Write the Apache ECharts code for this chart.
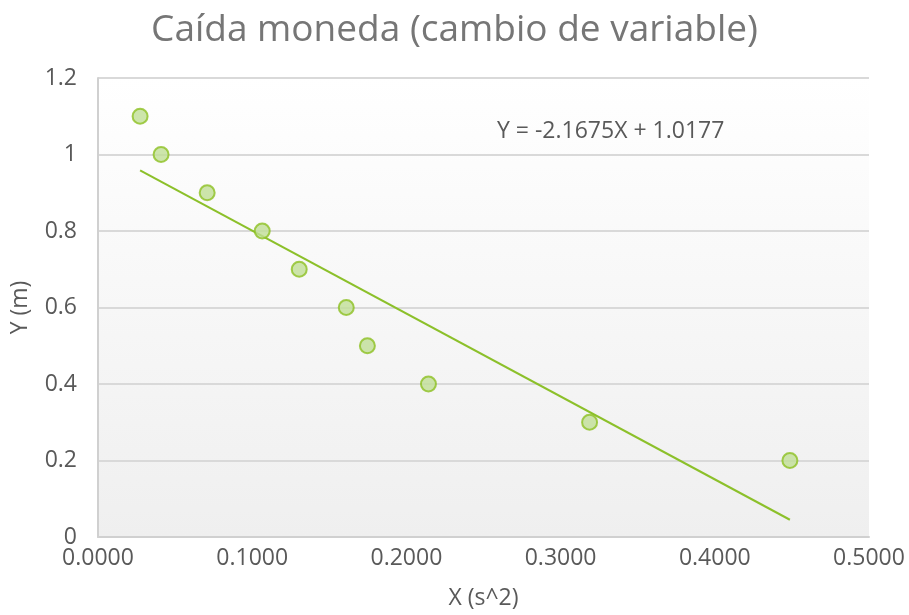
<!DOCTYPE html>
<html>
<head>
<meta charset="utf-8">
<script src="https://cdn.jsdelivr.net/npm/echarts@6/dist/echarts.min.js"></script>
<style>html,body{margin:0;padding:0;background:#fff}#c{width:909px;height:615px}</style>
</head>
<body>
<div id="c"></div>
<script>
const titleText = 'Caída moneda (cambio de variable)';
const xName = 'X (s^2)';
const yName = 'Y (m)';
const xValues = [0.0273, 0.0409, 0.0708, 0.1065, 0.1305, 0.1610, 0.1747, 0.2143, 0.3188, 0.4487];
const yValues = [1.1, 1.0, 0.9, 0.8, 0.7, 0.6, 0.5, 0.4, 0.3, 0.2];
const trendX = [0.0273, 0.4487];
const trendY = [0.9585, 0.0451];
const equationText = 'Y = -2.1675X + 1.0177';

const FONT = 'Open Sans';
const chart = echarts.init(document.getElementById('c'), null, {renderer: 'canvas'});
chart.setOption({
  animation: false,
  backgroundColor: '#ffffff',
  textStyle: {fontFamily: FONT},
  title: {
    text: titleText, left: 'center', top: 7,
    textStyle: {fontFamily: FONT, fontSize: 37, fontWeight: 'normal', color: '#767676'}
  },
  grid: {left: 98, right: 40, top: 78, bottom: 77,
    show: true, borderWidth: 0,
    backgroundColor: new echarts.graphic.LinearGradient(0, 0, 0, 1, [
      {offset: 0, color: '#ffffff'}, {offset: 1, color: '#efefef'}])
  },
  xAxis: {
    type: 'value', min: 0, max: 0.5, interval: 0.1,
    name: xName, nameLocation: 'middle', nameGap: 50,
    nameTextStyle: {fontFamily: FONT, fontSize: 23, color: '#595959'},
    axisLine: {show: true, lineStyle: {color: '#d0d0d0', width: 2}},
    axisTick: {show: false},
    splitLine: {show: false},
    axisLabel: {fontFamily: FONT, fontSize: 23, color: '#595959', margin: 10,
      formatter: v => v.toFixed(4)}
  },
  yAxis: {
    type: 'value', min: 0, max: 1.2, interval: 0.2,
    name: yName, nameLocation: 'middle', nameGap: 66, nameRotate: 90,
    nameTextStyle: {fontFamily: FONT, fontSize: 23, color: '#595959'},
    axisLine: {show: true, lineStyle: {color: '#d0d0d0', width: 2}},
    axisTick: {show: false},
    splitLine: {show: true, lineStyle: {color: '#d9d9d9', width: 2}},
    axisLabel: {fontFamily: FONT, fontSize: 23, color: '#595959', margin: 21,
      formatter: v => String(Math.round(v * 10) / 10)}
  },
  series: [
    {
      type: 'line', data: trendX.map((x, i) => [x, trendY[i]]),
      symbol: 'none', lineStyle: {color: '#8cc02a', width: 2}, z: 2
    },
    {
      type: 'scatter', data: xValues.map((x, i) => [x, yValues[i]]),
      symbol: 'circle', symbolSize: 15,
      itemStyle: {color: '#c0df96', borderColor: '#8dc023', borderWidth: 2},
      z: 3
    }
  ],
  graphic: [{
    type: 'text', left: 497, top: 120,
    style: {text: equationText, fontFamily: FONT, fontSize: 23, fill: '#595959'}
  }]
});
</script>
</body>
</html>
